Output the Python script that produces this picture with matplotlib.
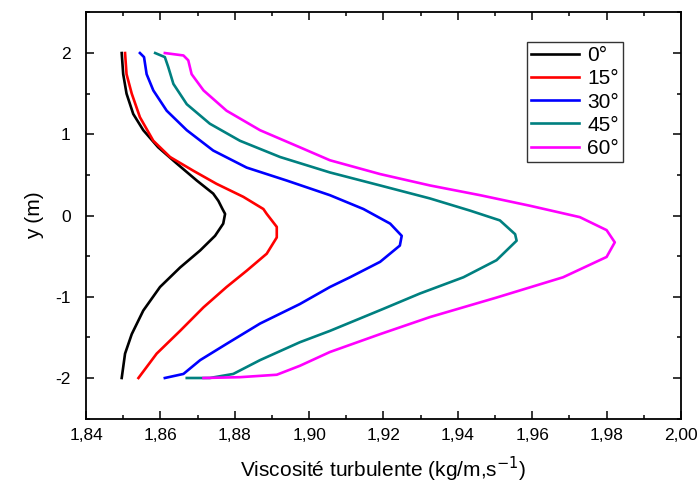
import numpy as np
import matplotlib
matplotlib.use('Agg')
import matplotlib.pyplot as plt
from matplotlib.ticker import FuncFormatter, MultipleLocator

plt.rcParams['font.family'] = ['Liberation Sans', 'DejaVu Sans']

# values (x = viscosity, y = height), top to bottom
y_0 = [2.0, 1.74, 1.50, 1.25, 1.05, 0.84, 0.64, 0.43, 0.27, 0.18, 0.08, 0.02, -0.10, -0.25,
       -0.43, -0.64, -0.88, -1.17, -1.46, -1.70, -2.0]
x_0 = [1.8496, 1.8500, 1.8509, 1.8527, 1.8554, 1.8594, 1.8644, 1.8698, 1.8742, 1.8756, 1.8767, 1.8774,
       1.8769, 1.8747, 1.8707, 1.8653, 1.8599, 1.8554, 1.8523, 1.8505, 1.8496]

y_15 = [2.0, 1.74, 1.50, 1.21, 0.92, 0.72, 0.55, 0.39, 0.23, 0.08, 0.02, -0.14, -0.27, -0.47,
        -0.68, -0.88, -1.13, -1.42, -1.70, -2.0]
x_15 = [1.8505, 1.8509, 1.8523, 1.8545, 1.8581, 1.8626, 1.8689, 1.8751, 1.8823, 1.8877, 1.8886, 1.8913,
        1.8913, 1.8886, 1.8832, 1.8778, 1.8716, 1.8653, 1.8590, 1.8541]

y_30 = [2.0, 1.95, 1.74, 1.54, 1.29, 1.05, 0.80, 0.59, 0.43, 0.25, 0.08, -0.10, -0.25, -0.37,
        -0.57, -0.76, -0.88, -1.09, -1.33, -1.58, -1.78, -1.95, -2.0]
x_30 = [1.8545, 1.8556, 1.8563, 1.8581, 1.8617, 1.8671, 1.8742, 1.8832, 1.8940, 1.9056, 1.9146, 1.9218,
        1.9249, 1.9244, 1.9191, 1.9110, 1.9056, 1.8975, 1.8868, 1.8778, 1.8707, 1.8662, 1.8612]

y_45 = [2.0, 1.95, 1.83, 1.62, 1.37, 1.13, 0.92, 0.72, 0.53, 0.37, 0.21, 0.06, -0.06, -0.23,
        -0.31, -0.55, -0.76, -0.96, -1.15, -1.42, -1.56, -1.78, -1.95, -2.0, -2.0]
x_45 = [1.8586, 1.8612, 1.8621, 1.8635, 1.8671, 1.8733, 1.8814, 1.8922, 1.9056, 1.9191, 1.9325, 1.9433,
        1.9513, 1.9554, 1.9558, 1.9504, 1.9415, 1.9298, 1.9199, 1.9056, 1.8975, 1.8868, 1.8796, 1.8733, 1.8671]

y_60 = [2.0, 1.97, 1.91, 1.74, 1.54, 1.29, 1.05, 0.84, 0.68, 0.51, 0.37, 0.25, 0.12, -0.02,
        -0.18, -0.33, -0.51, -0.76, -1.01, -1.25, -1.46, -1.68, -1.85, -1.96, -1.99, -2.0]
x_60 = [1.8612, 1.8662, 1.8675, 1.8684, 1.8716, 1.8778, 1.8868, 1.8975, 1.9056, 1.9191, 1.9325, 1.9460,
        1.9594, 1.9728, 1.9800, 1.9822, 1.9800, 1.9683, 1.9504, 1.9325, 1.9191, 1.9056, 1.8975, 1.8913,
        1.8814, 1.8716]

series = [(x_0, y_0, '0°', 'black'),
          (x_15, y_15, '15°', 'red'),
          (x_30, y_30, '30°', 'blue'),
          (x_45, y_45, '45°', '#008080'),
          (x_60, y_60, '60°', 'magenta')]

fig = plt.figure(figsize=(6.97, 4.83), dpi=100)
ax = fig.add_axes([0.1234, 0.1333, 0.8536, 0.8410])

for xs, ys, lab, col in series:
    ax.plot(xs, ys, color=col, lw=1.9, label=lab, solid_joinstyle='round')

ax.set_xlim(1.84, 2.00)
ax.set_ylim(-2.5, 2.5)
ax.xaxis.set_major_locator(MultipleLocator(0.02))
ax.xaxis.set_minor_locator(MultipleLocator(0.01))
ax.yaxis.set_major_locator(MultipleLocator(1))
ax.yaxis.set_minor_locator(MultipleLocator(0.5))
ax.xaxis.set_major_formatter(FuncFormatter(lambda v, p: f'{v:.2f}'.replace('.', ',')))
ax.yaxis.set_major_formatter(FuncFormatter(lambda v, p: f'{v:.0f}'))
ax.tick_params(which='both', direction='in', top=True, right=True, labelsize=12.5, width=1.1)
ax.tick_params(which='major', length=6, pad=7)
ax.tick_params(axis='y', which='major', pad=11)
ax.tick_params(which='minor', length=3)
for s in ax.spines.values():
    s.set_linewidth(1.3)

ax.set_xlabel('Viscosité turbulente (kg/m,s$^{-1}$)', fontsize=15, labelpad=8)
ax.set_ylabel('y (m)', fontsize=15, labelpad=8)

leg = ax.legend(loc='upper left', bbox_to_anchor=(0.741, 0.927), borderaxespad=0, fontsize=15,
                frameon=True, fancybox=False, edgecolor='black', handlelength=2.3,
                labelspacing=0.2, borderpad=0.2, handletextpad=0.4)
leg.get_frame().set_linewidth(1.0)

fig.savefig('out.png', dpi=100)
